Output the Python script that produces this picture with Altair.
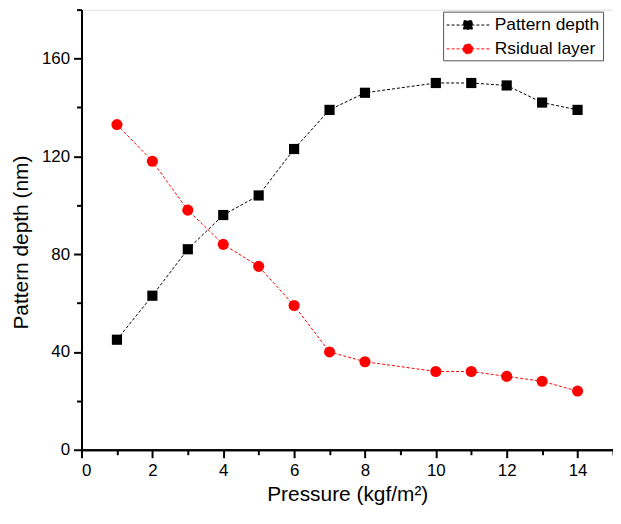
import altair as alt
import pandas as pd

pressure = [1, 2, 3, 4, 5, 6, 7, 8, 10, 11, 12, 13, 14]
pattern_depth = [45, 63, 82, 96, 104, 123, 139, 146, 150, 150, 149, 142, 139]
residual_layer = [133, 118, 98, 84, 75, 59, 40, 36, 32, 32, 30, 28, 24]
series_names = ["Pattern depth", "Rsidual layer"]
series_colors = ["#000000", "#ff0000"]
x_major = [0, 2, 4, 6, 8, 10, 12, 14]
x_minor = [1, 3, 5, 7, 9, 11, 13, 15]
y_major = [0, 40, 80, 120, 160]
y_minor = [20, 60, 100, 140, 180]

df = pd.DataFrame({
    "Pressure": pressure * 2,
    "Value": pattern_depth + residual_layer,
    "Series": [series_names[0]] * len(pressure) + [series_names[1]] * len(pressure),
})

FONT = "Liberation Sans"
xs = alt.Scale(domain=[0, 15], nice=False, zero=False)
ys = alt.Scale(domain=[0, 180], nice=False, zero=False)

axis_common = dict(domainColor="black", domainWidth=2, tickColor="black", tickWidth=2,
                   grid=False, labelFont=FONT, labelFontSize=17, labelColor="black")
title_common = dict(titleFont=FONT, titleFontSize=21, titleColor="black", titleFontWeight="normal")

x_major_axis = alt.Axis(values=x_major, tickSize=8, orient="bottom", title="Pressure (kgf/m²)",
                        labelPadding=5, titlePadding=5, **axis_common, **title_common)
y_major_axis = alt.Axis(values=y_major, tickSize=8, orient="left", title="Pattern depth (nm)",
                        labelPadding=4, titlePadding=10, titleY=234, **axis_common, **title_common)
x_minor_axis = alt.Axis(values=x_minor, tickSize=5, orient="bottom", labels=False, title=None,
                        **axis_common)
y_minor_axis = alt.Axis(values=y_minor, tickSize=5, orient="left", labels=False, title=None,
                        **axis_common)

base = alt.Chart(df)
pd_data = base.transform_filter(alt.datum.Series == series_names[0])
rl_data = base.transform_filter(alt.datum.Series == series_names[1])

line_pd = pd_data.mark_line(strokeDash=[3, 2], strokeWidth=1, color=series_colors[0]).encode(
    x=alt.X("Pressure:Q", scale=xs, axis=x_major_axis),
    y=alt.Y("Value:Q", scale=ys, axis=y_major_axis),
)
line_rl = rl_data.mark_line(strokeDash=[3, 2], strokeWidth=1, color=series_colors[1]).encode(
    x=alt.X("Pressure:Q", scale=xs, axis=x_minor_axis),
    y=alt.Y("Value:Q", scale=ys, axis=y_minor_axis),
)
squares = pd_data.mark_square(size=105, opacity=1, color=series_colors[0]).encode(
    x=alt.X("Pressure:Q", scale=xs, axis=None),
    y=alt.Y("Value:Q", scale=ys, axis=None),
)
circles = rl_data.mark_circle(size=125, opacity=1, color=series_colors[1]).encode(
    x=alt.X("Pressure:Q", scale=xs, axis=None),
    y=alt.Y("Value:Q", scale=ys, axis=None),
)

sq_path = "M-1,0H3.3M0.72,-0.43H1.58V0.43H0.72Z"
ci_path = "M-1,0H3.3M0.65,0A0.5,0.5 0 1,0 1.65,0A0.5,0.5 0 1,0 0.65,0Z"

legend = alt.Legend(title=None, orient="none", legendX=364, legendY=2,
                    strokeColor="#555555", fillColor="white", padding=3,
                    labelFont=FONT, labelFontSize=17.5, labelColor="black",
                    symbolSize=400, symbolStrokeWidth=1, symbolDash=[3, 2],
                    symbolOpacity=1, labelOffset=28, rowPadding=5)

fs = alt.Scale(domain=series_names, range=series_colors)
legend_layer = base.mark_point(filled=True, opacity=0).encode(
    x=alt.X("Pressure:Q", scale=xs, axis=None),
    y=alt.Y("Value:Q", scale=ys, axis=None),
    fill=alt.Fill("Series:N", scale=fs, legend=legend),
    stroke=alt.Stroke("Series:N", scale=fs, legend=legend),
    shape=alt.Shape("Series:N", scale=alt.Scale(domain=series_names, range=[sq_path, ci_path]),
                    legend=legend),
)

chart = alt.layer(line_pd, line_rl, squares, circles, legend_layer).resolve_axis(
    x="independent", y="independent"
).properties(
    width=535, height=443,
    autosize=alt.AutoSizeParams(type="none"),
    padding={"left": 74, "top": 0, "right": 0, "bottom": 58},
).configure_view(stroke="black", strokeWidth=2).configure(background="white")

chart.save("out.html", embed_options={"renderer": "svg", "actions": False})
